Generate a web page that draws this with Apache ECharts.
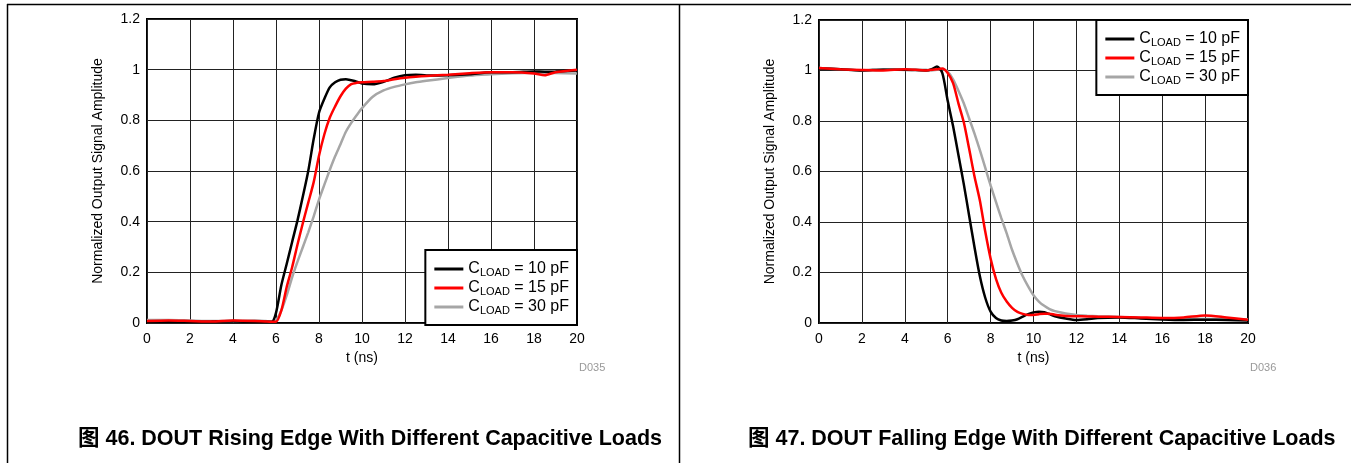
<!DOCTYPE html>
<html>
<head>
<meta charset="utf-8">
<script src="https://cdn.jsdelivr.net/npm/echarts@6/dist/echarts.min.js"></script>
<style>
  html, body { margin: 0; padding: 0; background: #fff; }
  #chart { width: 1351px; height: 463px; }
</style>
</head>
<body>
<div id="chart"></div>
<script>
// 上升沿时间轴 (ns)
const riseT = [0, 1, 2, 3, 4, 5, 5.5, 5.8, 6, 6.25, 6.5, 6.75, 7, 7.25, 7.5, 7.75, 8, 8.25, 8.5, 8.75, 9, 9.25, 9.5, 9.75, 10, 10.5, 11, 11.5, 12, 12.5, 13, 14, 15, 16, 17, 18, 18.5, 19, 20]
const rise10 = [0.005, 0.006, 0.005, 0.006, 0.008, 0.006, 0.005, 0.005, 0.04, 0.15, 0.234, 0.32, 0.405, 0.5, 0.6, 0.725, 0.83, 0.885, 0.93, 0.95, 0.96, 0.962, 0.958, 0.953, 0.945, 0.942, 0.952, 0.968, 0.978, 0.98, 0.977, 0.978, 0.982, 0.99, 0.99, 0.993, 0.992, 0.993, 0.997]
const rise15 = [0.008, 0.01, 0.008, 0.006, 0.01, 0.008, 0.006, 0.005, 0.005, 0.05, 0.143, 0.22, 0.31, 0.395, 0.475, 0.555, 0.66, 0.745, 0.81, 0.855, 0.895, 0.925, 0.943, 0.948, 0.95, 0.952, 0.955, 0.962, 0.968, 0.972, 0.975, 0.98, 0.986, 0.99, 0.99, 0.985, 0.978, 0.99, 1.0]
const rise30 = [0.012, 0.012, 0.01, 0.008, 0.008, 0.01, 0.008, 0.006, 0.01, 0.05, 0.11, 0.18, 0.242, 0.3, 0.358, 0.42, 0.487, 0.546, 0.604, 0.658, 0.706, 0.755, 0.79, 0.82, 0.848, 0.893, 0.918, 0.932, 0.942, 0.95, 0.956, 0.967, 0.977, 0.982, 0.986, 0.988, 0.988, 0.987, 0.985]

// 下降沿时间轴 (ns)
const fallT = [0, 1, 2, 3, 4, 5, 5.25, 5.5, 5.75, 6, 6.25, 6.5, 6.75, 7, 7.25, 7.5, 7.75, 8, 8.25, 8.5, 8.75, 9, 9.25, 9.5, 9.75, 10, 10.25, 10.5, 10.75, 11, 11.5, 12, 12.5, 13, 14, 15, 16, 17, 18, 19, 20]
const fall10 = [1.008, 1.005, 1.0, 1.003, 1.003, 1.0, 1.005, 1.016, 0.99, 0.88, 0.78, 0.665, 0.55, 0.425, 0.3, 0.185, 0.1, 0.045, 0.02, 0.01, 0.008, 0.01, 0.015, 0.025, 0.035, 0.042, 0.045, 0.043, 0.035, 0.027, 0.018, 0.012, 0.015, 0.02, 0.022, 0.018, 0.014, 0.012, 0.013, 0.012, 0.01]
const fall15 = [1.01, 1.005, 1.002, 1.0, 1.005, 1.0, 1.003, 1.005, 1.008, 0.99, 0.95, 0.87, 0.795, 0.69, 0.58, 0.485, 0.362, 0.255, 0.175, 0.12, 0.085, 0.06, 0.044, 0.036, 0.032, 0.032, 0.035, 0.037, 0.037, 0.033, 0.028, 0.027, 0.026, 0.025, 0.024, 0.022, 0.02, 0.022, 0.03, 0.022, 0.013]
const fall30 = [1.01, 1.005, 1.0, 1.005, 1.002, 1.003, 1.0, 1.003, 1.005, 0.995, 0.965, 0.92, 0.87, 0.81, 0.75, 0.685, 0.615, 0.545, 0.48, 0.415, 0.355, 0.29, 0.235, 0.185, 0.145, 0.11, 0.085, 0.068, 0.055, 0.047, 0.038, 0.032, 0.029, 0.027, 0.024, 0.02, 0.018, 0.017, 0.016, 0.015, 0.015]

// 刻度与文字
const xTicks = { min: 0, max: 20, interval: 2 }
const yTicks = { min: 0, max: 1.2, interval: 0.2 }
const loads = ['10 pF', '15 pF', '30 pF']
const colors = ['#000000', '#ff0000', '#a6a6a6']
const captions = [
  '图 46. DOUT Rising Edge With Different Capacitive Loads',
  '图 47. DOUT Falling Edge With Different Capacitive Loads'
]
const codes = ['D035', 'D036']

const FONT = '"Liberation Sans", Arial, "Noto Sans CJK SC", sans-serif'
const names = loads.map(l => 'CLOAD = ' + l)

const zip = (t, v) => t.map((x, i) => [x, v[i]])

const makeSeries = (idx, t, vals) => {
  // 先画灰色，再黑色，最后红色（红线在最上层）
  const order = [2, 0, 1]
  return order.map(k => ({
    name: names[k],
    type: 'line',
    xAxisIndex: idx,
    yAxisIndex: idx,
    data: zip(t, vals[k]),
    symbol: 'none',
    showSymbol: false,
    smooth: 0.25,
    lineStyle: { color: colors[k], width: 2.5 },
    itemStyle: { color: colors[k] }
  }))
}

const xAxisOf = idx => ({
  type: 'value',
  gridIndex: idx,
  ...xTicks,
  name: 't (ns)',
  nameLocation: 'middle',
  nameGap: 27,
  nameTextStyle: { fontSize: 14, color: '#000', fontFamily: FONT },
  axisLine: { show: false },
  axisTick: { show: false },
  axisLabel: { fontSize: 14, color: '#000', margin: 9, fontFamily: FONT },
  splitLine: { lineStyle: { color: '#222', width: 1 } }
})

const yAxisOf = idx => ({
  type: 'value',
  gridIndex: idx,
  ...yTicks,
  name: 'Normalized Output Signal Amplitude',
  nameLocation: 'middle',
  nameGap: 42,
  nameTextStyle: { fontSize: 14, color: '#000', fontFamily: FONT },
  axisLine: { show: false },
  axisTick: { show: false },
  axisLabel: { fontSize: 14, color: '#000', margin: 7, fontFamily: FONT },
  splitLine: { lineStyle: { color: '#222', width: 1 } }
})

const legendOf = pos => ({
  data: names.map(n => ({ name: n, icon: 'rect' })),
  orient: 'vertical',
  ...pos,
  padding: [10, 8, 9, 9],
  itemWidth: 29,
  itemHeight: 3,
  itemGap: 1,
  borderColor: '#000',
  borderWidth: 2,
  backgroundColor: '#fff',
  selectedMode: false,
  formatter: name => '{c|C}{s|LOAD}{c| = ' + loads[names.indexOf(name)] + '}',
  textStyle: {
    rich: {
      c: { fontSize: 16, lineHeight: 18, color: '#000', fontFamily: FONT, padding: [0, 0, 0, 0] },
      s: { fontSize: 11, lineHeight: 18, color: '#000', fontFamily: FONT, padding: [7, 0, 0, 0] }
    }
  }
})

const line = (x1, y1, x2, y2) => ({
  type: 'line',
  shape: { x1, y1, x2, y2 },
  style: { stroke: '#000', lineWidth: 1.5 },
  silent: true
})

const captionStyle = { fontSize: 21.5, fontWeight: 'bold', color: '#000', fontFamily: FONT }

const chart = echarts.init(document.getElementById('chart'))
chart.setOption({
  animation: false,
  backgroundColor: '#fff',
  title: [
    { text: captions[0], left: 78, top: 428, padding: 0, textStyle: captionStyle },
    { text: captions[1], left: 748, top: 428, padding: 0, textStyle: captionStyle }
  ],
  grid: [
    { left: 147, top: 19, width: 430, height: 304, show: true, borderColor: '#000', borderWidth: 2, backgroundColor: 'transparent' },
    { left: 819, top: 20, width: 429, height: 303, show: true, borderColor: '#000', borderWidth: 2, backgroundColor: 'transparent' }
  ],
  xAxis: [xAxisOf(0), xAxisOf(1)],
  yAxis: [yAxisOf(0), yAxisOf(1)],
  legend: [
    legendOf({ right: 774, top: 250 }),
    legendOf({ right: 103, top: 20 })
  ],
  graphic: [
    line(7, 4.5, 1351, 4.5),
    line(7.5, 4, 7.5, 463),
    line(679.5, 4, 679.5, 463),
    { type: 'text', left: 579, top: 362, silent: true,
      style: { text: codes[0], fontSize: 11, fill: '#999', font: '11px ' + FONT } },
    { type: 'text', left: 1250, top: 362, silent: true,
      style: { text: codes[1], fontSize: 11, fill: '#999', font: '11px ' + FONT } }
  ],
  series: [
    ...makeSeries(0, riseT, [rise10, rise15, rise30]),
    ...makeSeries(1, fallT, [fall10, fall15, fall30])
  ]
})
</script>
</body>
</html>
